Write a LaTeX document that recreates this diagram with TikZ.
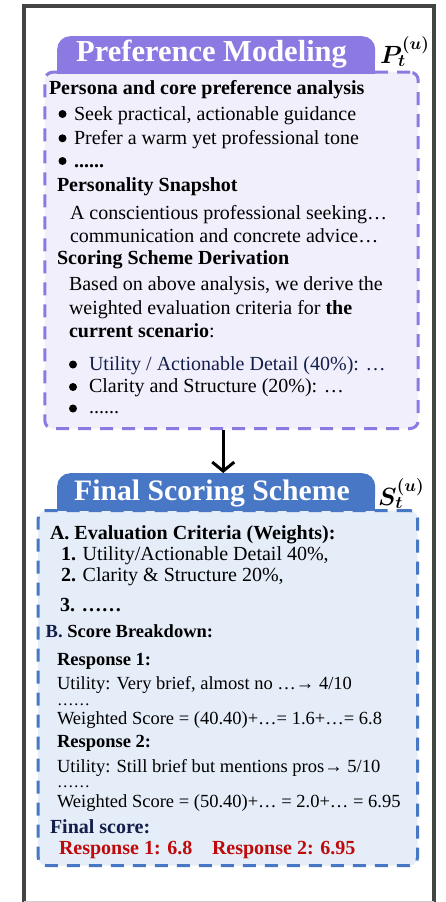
\documentclass[tikz,border=0pt]{standalone}
\usepackage{fontspec}
\setmainfont{Liberation Serif}
\usetikzlibrary{arrows.meta}

\definecolor{pmpurple}{RGB}{140,122,226}
\definecolor{pmfill}{RGB}{240,239,251}
\definecolor{fsblue}{RGB}{72,119,198}
\definecolor{fsfill}{RGB}{229,237,248}
\definecolor{framegray}{RGB}{68,68,68}
\definecolor{navy}{RGB}{20,30,75}
\definecolor{scorered}{RGB}{190,10,10}

\tikzset{
  txt/.style={anchor=base west, inner sep=0pt, outer sep=0pt, font=\fontsize{20}{24}\selectfont},
  txtb/.style={txt, font=\fontsize{20}{24}\selectfont\bfseries},
  stxt/.style={txt, font=\fontsize{18.5}{22}\selectfont},
  stxtb/.style={txt, font=\fontsize{18.5}{22}\selectfont\bfseries},
  dotline/.style={txt, font=\fontsize{16.5}{20}\selectfont},
  tabtitle/.style={anchor=base west, inner sep=0pt, text=white},
  dashbox/.style={anchor=north west, rounded corners=8pt, line width=3pt,
                  dash pattern=on 13pt off 9pt, inner sep=0pt},
  tabshape/.style={anchor=north west, rounded corners=13pt, inner sep=0pt,
                   minimum width=318pt, minimum height=36pt},
  bul/.style={circle, fill=black, inner sep=0pt, minimum size=8pt},
  mathlabel/.style={anchor=base west, inner sep=0pt, font=\fontsize{27}{30}\selectfont\boldmath},
  flowarrow/.style={line width=3pt, -{Straight Barb[length=9pt, width=22pt]}},
}

\begin{document}
\begin{tikzpicture}[x=1pt, y=-1pt]
\useasboundingbox (0,0) rectangle (446,902);

% outer frame
\draw[framegray, line width=4pt] (24.3,904) -- (24.3,5.7) -- (433.5,5.7) -- (433.5,904);
\draw[gray!40, line width=1pt] (24.3,901) -- (433.5,901);

% ---------- Preference modeling panel ----------
\node[dashbox, draw=pmpurple, fill=pmfill, minimum width=373.4pt, minimum height=356.3pt]
  (pmbox) at (43.3,70.7) {};
\node[tabshape, fill=pmpurple] (pmtab) at (57,36) {};
\fill[pmpurple] (pmtab.west) rectangle ([yshift=-1.5pt]pmtab.south east);
\node[tabtitle, font=\fontsize{30.5}{34}\selectfont\bfseries] (pmtitle) at (76,61.7) {Preference Modeling};
\node[mathlabel] (pmlabel) at (380,63) {$P_t^{(u)}$};

\node[txtb] (pm1) at (49,94.3) {Persona and core preference analysis};
\node[bul] (pmb1) at (62.5,114) {};
\node[txt] (pm2) at (74,120) {Seek practical, actionable guidance};
\node[bul] (pmb2) at (62.5,138.3) {};
\node[txt] (pm3) at (74,144.3) {Prefer a warm yet professional tone};
\node[bul] (pmb3) at (62.5,161) {};
\node[txtb] (pm4) at (74,167) {......};
\node[txtb] (pm5) at (57,191.7) {Personality Snapshot};
\node[txt] (pm6) at (70,219) {A conscientious professional seeking…};
\node[txt] (pm7) at (70,242) {communication and concrete advice…};
\node[txtb] (pm8) at (57,264) {Scoring Scheme Derivation};
\node[txt] (pm9) at (69,290) {Based on above analysis, we derive the};
\node[txt] (pm10) at (69,314) {weighted evaluation criteria for \textbf{the}};
\node[txt] (pm11) at (69,337) {\textbf{current scenario}:};
\node[bul] (pmb4) at (73,364.5) {};
\node[txt, text=navy] (pm12) at (89,370) {Utility / Actionable Detail (40\%): …};
\node[bul] (pmb5) at (73,387) {};
\node[txt] (pm13) at (89,392.7) {Clarity and Structure (20\%): …};
\node[bul] (pmb6) at (73,408.5) {};
\node[txt] (pm14) at (89,413) {......};

% ---------- Final scoring scheme panel ----------
\node[dashbox, draw=fsblue, fill=fsfill, minimum width=379.3pt, minimum height=355pt]
  (fsbox) at (36.7,509) {};
\node[tabshape, fill=fsblue] (fstab) at (57,473) {};
\fill[fsblue] (fstab.west) rectangle ([yshift=-1.5pt]fstab.south east);
\node[tabtitle, font=\fontsize{29.7}{34}\selectfont\bfseries] (fstitle) at (74,500) {Final Scoring Scheme};
\node[mathlabel] (fslabel) at (378,505) {$S_t^{(u)}$};

\node[txtb] (fs1) at (50,539) {A. Evaluation Criteria (Weights):};
\node[txt] (fs2) at (61,560.7) {\textbf{1.} Utility/Actionable Detail 40\%,};
\node[txt] (fs3) at (61,581.7) {\textbf{2.} Clarity \& Structure 20\%,};
\node[txtb] (fs4) at (60,611.7) {3. ……};
\node[stxtb] (fs5) at (45.7,637.7) {{\color{navy}B.} Score Breakdown:};
\node[stxtb] (fs6) at (57,665) {Response 1:};
\node[stxt] (fs7) at (57,689) {Utility: Very brief, almost no …→ 4/10};
\node[dotline] (fs8) at (57,705) {……};
\node[stxt] (fs9) at (57,724) {Weighted Score = (40.40)+…= 1.6+…= 6.8};
\node[stxtb] (fs10) at (57,747) {Response 2:};
\node[stxt] (fs11) at (57,772) {Utility: Still brief but mentions pros→ 5/10};
\node[dotline] (fs12) at (57,787.5) {……};
\node[stxt] (fs13) at (57,807.7) {Weighted Score = (50.40)+… = 2.0+… = 6.95};
\node[txtb, text=navy] (fs14) at (50,833) {Final score:};
\node[txtb, text=scorered] (fs15) at (59,854) {Response 1: 6.8};
\node[txtb, text=scorered] (fs16) at (212,854) {Response 2: 6.95};

% connector between the panels
\draw[flowarrow] ([xshift=7pt]fstab.north |- pmbox.south) -- ([xshift=7pt]fstab.north);
\end{tikzpicture}
\end{document}
